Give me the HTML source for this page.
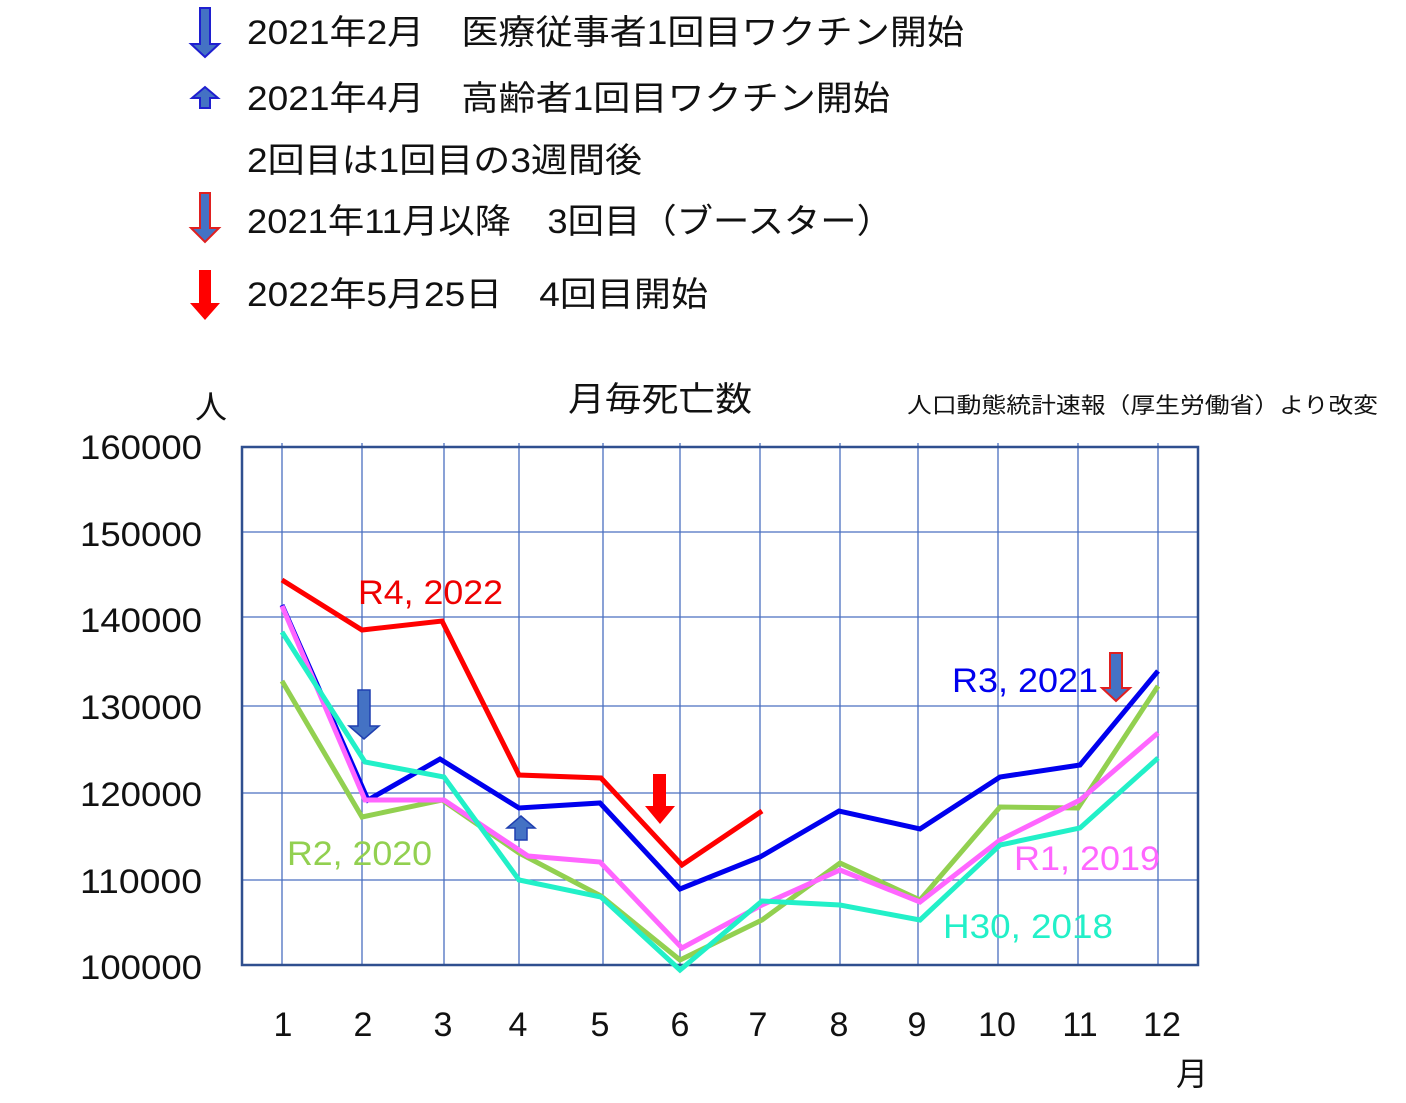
<!DOCTYPE html>
<html><head><meta charset="utf-8"><style>
html,body{margin:0;padding:0;background:#fff;}
svg{display:block;}
text{font-family:"Liberation Sans","Noto Sans CJK JP",sans-serif;}
</style></head><body>
<svg width="1406" height="1103" viewBox="0 0 1406 1103" xmlns="http://www.w3.org/2000/svg">
<g font-size="34" fill="#111" lengthAdjust="spacingAndGlyphs">
<text x="247" y="44" textLength="717" lengthAdjust="spacingAndGlyphs">2021年2月　医療従事者1回目ワクチン開始</text>
<text x="247" y="110" textLength="643" lengthAdjust="spacingAndGlyphs">2021年4月　高齢者1回目ワクチン開始</text>
<text x="247" y="172" textLength="395" lengthAdjust="spacingAndGlyphs">2回目は1回目の3週間後</text>
<text x="247" y="233" textLength="646" lengthAdjust="spacingAndGlyphs">2021年11月以降　3回目（ブースター）</text>
<text x="247" y="306" textLength="461" lengthAdjust="spacingAndGlyphs">2022年5月25日　4回目開始</text>
</g>
<polygon points="200,8 210,8 210,44 219,44 205,57 191,44 200,44" fill="#4472c4" stroke="#1f1fd0" stroke-width="2"/>
<polygon points="200,108 210,108 210,98 218,98 205,87 192,98 200,98" fill="#4472c4" stroke="#1f1fd0" stroke-width="2"/>
<polygon points="200,193 210,193 210,228 219,228 205,242 191,228 200,228" fill="#4472c4" stroke="#e02020" stroke-width="2"/>
<polygon points="199,270 211,270 211,303 220,303 205,320 190,303 199,303" fill="#ff0000"/>
<text x="568" y="411" font-size="34" fill="#111" textLength="184" lengthAdjust="spacingAndGlyphs">月毎死亡数</text>
<text x="907" y="413" font-size="22" fill="#111" textLength="471" lengthAdjust="spacingAndGlyphs">人口動態統計速報（厚生労働省）より改変</text>
<text x="195" y="418" font-size="32" fill="#111">人</text>
<text x="1176" y="1085" font-size="32" fill="#111">月</text>
<g font-size="34" fill="#111">
<text x="80" y="459" textLength="122" lengthAdjust="spacingAndGlyphs">160000</text>
<text x="80" y="546" textLength="122" lengthAdjust="spacingAndGlyphs">150000</text>
<text x="80" y="632" textLength="122" lengthAdjust="spacingAndGlyphs">140000</text>
<text x="80" y="719" textLength="122" lengthAdjust="spacingAndGlyphs">130000</text>
<text x="80" y="806" textLength="122" lengthAdjust="spacingAndGlyphs">120000</text>
<text x="80" y="893" textLength="122" lengthAdjust="spacingAndGlyphs">110000</text>
<text x="80" y="979" textLength="122" lengthAdjust="spacingAndGlyphs">100000</text>
</g>
<g font-size="34" fill="#111" text-anchor="middle">
<text x="283" y="1036">1</text><text x="363" y="1036">2</text><text x="443" y="1036">3</text>
<text x="518" y="1036">4</text><text x="600" y="1036">5</text><text x="680" y="1036">6</text>
<text x="758" y="1036">7</text><text x="839" y="1036">8</text><text x="917" y="1036">9</text>
<text x="997" y="1036">10</text><text x="1080" y="1036">11</text><text x="1162" y="1036">12</text>
</g>
<g stroke="#4a6fc0" stroke-width="1.3">
<line x1="282" y1="443" x2="282" y2="965"/><line x1="362" y1="443" x2="362" y2="965"/>
<line x1="444" y1="443" x2="444" y2="965"/><line x1="519" y1="443" x2="519" y2="965"/>
<line x1="603" y1="443" x2="603" y2="965"/><line x1="680" y1="443" x2="680" y2="965"/>
<line x1="760" y1="443" x2="760" y2="965"/><line x1="840" y1="443" x2="840" y2="965"/>
<line x1="918" y1="443" x2="918" y2="965"/><line x1="998" y1="443" x2="998" y2="965"/>
<line x1="1078" y1="443" x2="1078" y2="965"/><line x1="1158" y1="443" x2="1158" y2="965"/>
<line x1="242" y1="532" x2="1198" y2="532"/><line x1="242" y1="617" x2="1198" y2="617"/>
<line x1="242" y1="706" x2="1198" y2="706"/><line x1="242" y1="793" x2="1198" y2="793"/>
<line x1="242" y1="880" x2="1198" y2="880"/>
</g>
<rect x="242" y="447" width="956" height="518" fill="none" stroke="#2f4f8f" stroke-width="2.5"/>
<g fill="none" stroke-width="5" stroke-linejoin="miter">
<polyline stroke="#0000ee" points="282,605 368,800 440,759 519,808 600,803 680,889 760,857 839,811 920,829 1000,777 1080,765 1158,671"/>
<polyline stroke="#92d050" points="282,681 362,817 442,800 519,853 601,896 680,960 762,920 840,863 920,900 1000,807 1078,808 1158,686"/>
<polyline stroke="#ff66ff" points="282,606 365,800 444,800 528,856 600,862 682,948 762,905 840,870 920,902 1000,840 1080,800 1158,733"/>
<polyline stroke="#22f0c8" points="282,632 365,762 444,777 519,880 601,897 680,970 762,901 840,905 920,920 1000,845 1080,828 1158,758"/>
<polyline stroke="#ff0000" points="282,580 362,630 442,621 519,775 601,778 682,865 762,811"/>
</g>
<text x="358" y="604" font-size="34" fill="#ee0000" textLength="145" lengthAdjust="spacingAndGlyphs">R4, 2022</text>
<text x="287" y="865" font-size="34" fill="#92d050" textLength="145" lengthAdjust="spacingAndGlyphs">R2, 2020</text>
<text x="952" y="692" font-size="34" fill="#0000ee" textLength="146" lengthAdjust="spacingAndGlyphs">R3, 2021</text>
<text x="1014" y="870" font-size="34" fill="#ff66ff" textLength="146" lengthAdjust="spacingAndGlyphs">R1, 2019</text>
<text x="943" y="938" font-size="34" fill="#22f0c8" textLength="170" lengthAdjust="spacingAndGlyphs">H30, 2018</text>
<polygon points="358,690 370,690 370,726 379,726 364,739 349,726 358,726" fill="#4472c4" stroke="#1f3fb0" stroke-width="1.5"/>
<polygon points="515,840 527,840 527,828 535,828 521,816 507,828 515,828" fill="#4472c4" stroke="#1f3fb0" stroke-width="1.5"/>
<polygon points="653,774 666,774 666,806 675,806 660,824 645,806 653,806" fill="#ff0000"/>
<polygon points="1110,653 1122,653 1122,688 1130,688 1116,701 1102,688 1110,688" fill="#4472c4" stroke="#e02020" stroke-width="2"/>
</svg>
</body></html>
